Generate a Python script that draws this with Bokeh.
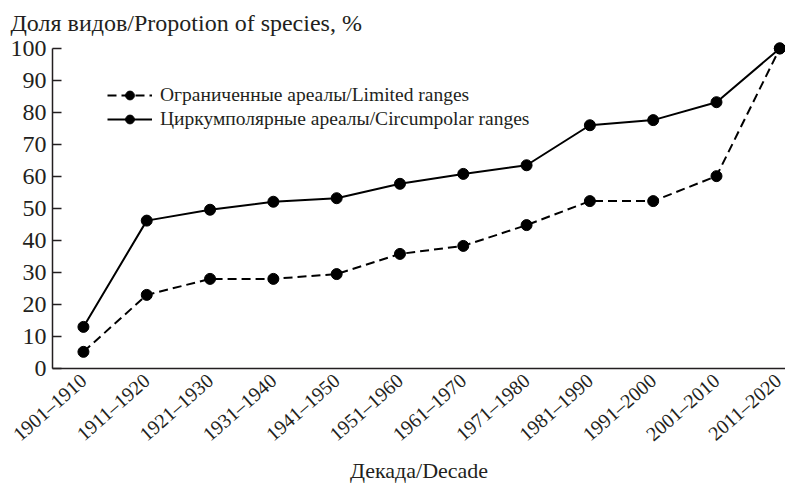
import math
from bokeh.plotting import figure
from bokeh.models import Range1d, FixedTicker, Legend, LegendItem
from bokeh.embed import file_html
from bokeh.resources import INLINE

decades = ["1901–1910", "1911–1920", "1921–1930", "1931–1940", "1941–1950", "1951–1960",
           "1961–1970", "1971–1980", "1981–1990", "1991–2000", "2001–2010", "2011–2020"]
limited = [5.2, 23.0, 28.0, 28.0, 29.5, 35.8, 38.3, 44.8, 52.3, 52.3, 60.1, 100.0]
circumpolar = [13.0, 46.2, 49.6, 52.1, 53.2, 57.7, 60.8, 63.5, 76.0, 77.6, 83.2, 100.0]
y_ticks = [0, 10, 20, 30, 40, 50, 60, 70, 80, 90, 100]

FONT = "'Liberation Serif', 'Times New Roman', serif"
INK = "#231f20"

x = list(range(len(decades)))

p = figure(width=785, height=486, output_backend="svg", toolbar_location=None,
           x_range=Range1d(-0.4886, 11.09), y_range=Range1d(0, 103.1),
           min_border_left=52, min_border_right=0, min_border_top=38, min_border_bottom=116)
p.outline_line_color = None
p.xgrid.visible = False
p.ygrid.visible = False

p.title.text = "Доля видов/Propotion of species, %"
p.title.text_font = FONT
p.title.text_font_size = "24px"
p.title.text_font_style = "normal"
p.title.text_color = INK
p.title.align = "left"
p.title.offset = -42
p.title.standoff = 6

r_lim_line = p.line(x, limited, line_color="black", line_width=2, line_dash="9 5")
r_lim_pts = p.scatter(x, limited, size=11, fill_color="black", line_color="black")
r_cir_line = p.line(x, circumpolar, line_color="black", line_width=2)
r_cir_pts = p.scatter(x, circumpolar, size=11, fill_color="black", line_color="black")

xa = p.xaxis[0]
xa.ticker = FixedTicker(ticks=x)
xa.major_label_overrides = {i: d for i, d in zip(x, decades)}
xa.major_label_orientation = 0.72
xa.major_tick_line_color = None
xa.minor_tick_line_color = None
xa.axis_line_width = 1.5
xa.axis_line_color = INK
xa.major_label_text_font = FONT
xa.major_label_text_font_size = "20px"
xa.major_label_text_color = INK
xa.major_label_standoff = 3
xa.axis_label = "Декада/Decade"
xa.axis_label_text_font = FONT
xa.axis_label_text_font_size = "22px"
xa.axis_label_text_font_style = "normal"
xa.axis_label_text_color = INK
xa.axis_label_standoff = 2

ya = p.yaxis[0]
ya.ticker = FixedTicker(ticks=y_ticks)
ya.bounds = (0, 100)
ya.major_tick_in = 9
ya.major_tick_out = 0
ya.major_tick_line_width = 1.5
ya.major_tick_line_color = INK
ya.minor_tick_line_color = None
ya.axis_line_width = 1.5
ya.axis_line_color = INK
ya.major_label_text_font = FONT
ya.major_label_text_font_size = "24px"
ya.major_label_text_color = INK
ya.major_label_standoff = 6

legend = Legend(items=[
    LegendItem(label="Ограниченные ареалы/Limited ranges", renderers=[r_lim_line, r_lim_pts]),
    LegendItem(label="Циркумполярные ареалы/Circumpolar ranges", renderers=[r_cir_line, r_cir_pts]),
], location=(55, 238))
legend.label_text_font = FONT
legend.label_text_font_size = "19.5px"
legend.label_text_color = INK
legend.glyph_width = 45
legend.glyph_height = 22
legend.label_height = 22
legend.spacing = 2
legend.padding = 0
legend.label_standoff = 8
legend.border_line_color = None
legend.background_fill_alpha = 0
p.add_layout(legend)

open("out.html", "w").write(file_html(p, INLINE))
